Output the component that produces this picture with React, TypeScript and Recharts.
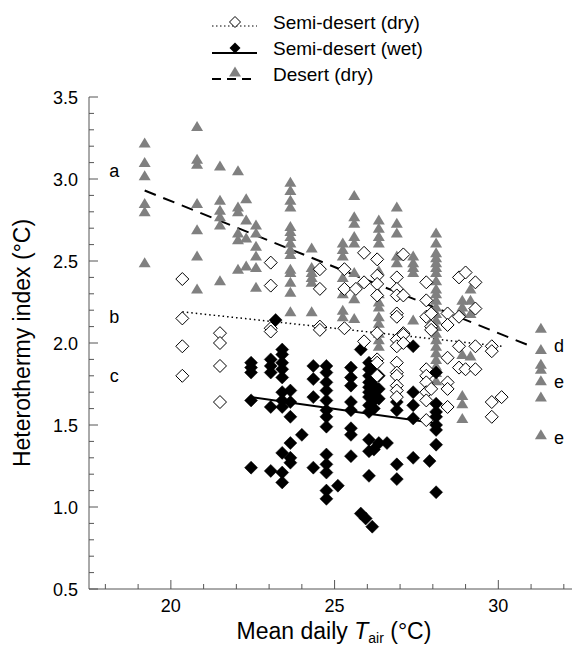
import React from "react";
import { ComposedChart, Scatter, XAxis, YAxis, ReferenceLine } from "recharts";

// columns of points: [mean daily Tair, heterothermy index values]
const semiDesertDry: [number, number[]][] = [
  [20.35, [2.39, 2.15, 1.98, 1.8]],
  [21.5, [2.06, 2.0, 1.86, 1.64]],
  [23.05, [2.49, 2.35, 2.09, 2.07]],
  [24.55, [2.45, 2.33, 2.1, 2.08]],
  [25.3, [2.45, 2.33, 2.09]],
  [25.65, [2.33]],
  [25.9, [2.55, 2.37, 2.01]],
  [26.3, [2.51, 2.41, 2.36, 2.29, 2.06, 1.9, 1.88, 1.8]],
  [26.9, [2.4, 2.33, 2.29, 2.18, 2.16, 2.02, 1.98, 1.88, 1.82, 1.8, 1.74, 1.71, 1.67]],
  [27.1, [2.54, 2.29, 2.06, 2.05, 2.0]],
  [27.8, [2.37, 2.26, 2.16, 1.84, 1.8, 1.76, 1.7, 1.65, 1.53]],
  [27.95, [2.18, 2.1, 2.08, 1.72]],
  [28.45, [2.18, 2.11, 1.91, 1.76, 1.72, 1.61]],
  [28.8, [2.4, 2.16, 1.98, 1.85]],
  [29.0, [2.43, 1.84]],
  [29.3, [2.37, 2.21, 1.98, 1.84]],
  [29.8, [1.98, 1.95, 1.64, 1.55]],
  [30.1, [1.67]],
];

const semiDesertWet: [number, number[]][] = [
  [22.45, [1.88, 1.85, 1.82, 1.65, 1.24]],
  [23.05, [1.9, 1.86, 1.82, 1.61, 1.22]],
  [23.2, [2.14]],
  [23.4, [1.96, 1.93, 1.88, 1.84, 1.79, 1.7, 1.65, 1.61, 1.33, 1.21, 1.15]],
  [23.65, [1.71, 1.64, 1.55, 1.39, 1.3, 1.27]],
  [24.0, [1.44]],
  [24.35, [1.86, 1.78, 1.67, 1.24]],
  [24.75, [1.86, 1.82, 1.76, 1.71, 1.65, 1.59, 1.55, 1.49, 1.32, 1.26, 1.21, 1.1, 1.05]],
  [25.1, [1.13]],
  [25.5, [1.85, 1.79, 1.74, 1.64, 1.59, 1.48, 1.44, 1.31]],
  [25.8, [1.96, 0.96]],
  [25.95, [0.93]],
  [26.05, [1.88, 1.84, 1.8, 1.76, 1.73, 1.7, 1.67, 1.62, 1.58, 1.41, 1.34, 1.19]],
  [26.15, [0.88]],
  [26.2, [1.86, 1.82, 1.78, 1.74, 1.71, 1.68, 1.65, 1.6, 1.35]],
  [26.35, [1.8, 1.72, 1.66, 1.39]],
  [26.6, [1.39]],
  [26.9, [1.64, 1.59, 1.26, 1.17]],
  [27.4, [1.98, 1.7, 1.62, 1.54, 1.3]],
  [27.9, [1.28]],
  [28.1, [1.82, 1.63, 1.58, 1.55, 1.5, 1.47, 1.38, 1.09]],
];

const desertDry: [number, number[]][] = [
  [19.2, [3.22, 3.1, 3.02, 2.85, 2.8, 2.49]],
  [20.8, [3.32, 3.12, 3.09, 2.85, 2.69, 2.53, 2.33]],
  [21.5, [3.08, 2.87, 2.81, 2.77, 2.72, 2.38]],
  [22.05, [3.05, 2.83, 2.8, 2.67, 2.63, 2.45]],
  [22.3, [2.88, 2.75, 2.64, 2.47]],
  [22.6, [2.72, 2.67, 2.59, 2.53, 2.46, 2.34]],
  [23.65, [2.98, 2.93, 2.87, 2.83, 2.71, 2.68, 2.65, 2.61, 2.57, 2.54, 2.45, 2.43, 2.37, 2.31, 2.19]],
  [24.3, [2.58, 2.46, 2.43, 2.4, 2.37, 2.19]],
  [25.25, [2.61, 2.57, 2.53, 2.4, 2.3, 2.2, 2.16]],
  [25.6, [2.9, 2.77, 2.73, 2.65, 2.61, 2.43, 2.27, 2.15]],
  [26.35, [2.75, 2.7, 2.65, 2.61, 2.44, 2.3, 2.25, 2.22, 2.16, 2.12, 2.06, 2.02, 1.98]],
  [26.9, [2.83, 2.73, 2.67, 2.53, 2.49]],
  [27.4, [2.53, 2.49, 2.46, 2.43, 2.14]],
  [28.1, [2.67, 2.61, 2.55, 2.52, 2.49, 2.46, 2.43, 2.38, 2.33, 2.3, 2.26, 2.22, 2.18, 2.14, 2.1, 2.06, 2.02, 1.98, 1.94, 1.9, 1.86, 1.82, 1.77]],
  [28.9, [2.26, 2.22, 2.18, 1.93, 1.68, 1.63, 1.54]],
  [29.15, [2.33, 2.26, 2.18, 1.92]],
  [31.3, [2.09, 1.96, 1.87, 1.84, 1.77, 1.67, 1.44]],
];

// regression line end points
const dryFit = [{ x: 20.35, y: 2.19 }, { x: 30.1, y: 1.98 }];
const wetFit = [{ x: 22.45, y: 1.67 }, { x: 28.1, y: 1.51 }];
const desertFit = [{ x: 19.2, y: 2.93 }, { x: 31.0, y: 1.98 }];

const letters = [
  { x: 18.27, y: 3.05, t: "a" },
  { x: 18.27, y: 2.16, t: "b" },
  { x: 18.27, y: 1.8, t: "c" },
  { x: 31.85, y: 1.98, t: "d" },
  { x: 31.85, y: 1.76, t: "e" },
  { x: 31.85, y: 1.42, t: "e" },
];

const xTicks = [18, 19, 20, 21, 22, 23, 24, 25, 26, 27, 28, 29, 30, 31, 32];
const xLabels = [20, 25, 30];
const yTicks = [
  0.5, 0.6, 0.7, 0.8, 0.9, 1.0, 1.1, 1.2, 1.3, 1.4, 1.5, 1.6, 1.7, 1.8, 1.9, 2.0,
  2.1, 2.2, 2.3, 2.4, 2.5, 2.6, 2.7, 2.8, 2.9, 3.0, 3.1, 3.2, 3.3, 3.4, 3.5,
];
const yLabels = [0.5, 1.0, 1.5, 2.0, 2.5, 3.0, 3.5];
const yRightTicks = [1.0, 1.5, 2.0, 2.5, 3.0];

const FONT = "'Liberation Sans', Arial, Helvetica, sans-serif";
const GRAY = "#808080";

const flat = (cols: [number, number[]][]) =>
  cols.flatMap(([x, ys]) => ys.map((y) => ({ x, y })));

const isLabel = (list: number[], v: number) => list.some((l) => Math.abs(l - v) < 1e-6);

const diamond = (cx: number, cy: number, r: number) =>
  `${cx},${cy - r} ${cx + r},${cy} ${cx},${cy + r} ${cx - r},${cy}`;
const triangle = (cx: number, cy: number) =>
  `${cx},${cy - 5.5} ${cx + 6},${cy + 4.5} ${cx - 6},${cy + 4.5}`;

const OpenDiamond = (p: any) => (
  <polygon points={diamond(p.cx, p.cy, 6.5)} fill="#fff" stroke="#000" strokeWidth={1} />
);
const FilledDiamond = (p: any) => (
  <polygon points={diamond(p.cx, p.cy, 6.5)} fill="#000" stroke="#000" strokeWidth={0.5} />
);
const Triangle = (p: any) => <polygon points={triangle(p.cx, p.cy)} fill={GRAY} />;
const Letter = (p: any) => (
  <text x={p.cx} y={p.cy} dy={6} textAnchor="middle" fontFamily={FONT} fontSize={18} fill="#000">
    {p.payload.t}
  </text>
);

const BottomTick = (p: any) => {
  const v = p.payload.value;
  const major = isLabel(xLabels, v);
  return (
    <g>
      <line x1={p.x} x2={p.x} y1={p.y} y2={p.y - (major ? 9 : 5)} stroke="#555" />
      {major && (
        <text x={p.x} y={p.y + 23} textAnchor="middle" fontFamily={FONT} fontSize={18} fill="#000">
          {v}
        </text>
      )}
    </g>
  );
};
const TopTick = (p: any) => {
  const major = isLabel(xLabels, p.payload.value);
  return <line x1={p.x} x2={p.x} y1={p.y} y2={p.y + (major ? 9 : 5)} stroke="#555" />;
};
const LeftTick = (p: any) => {
  const v = p.payload.value;
  const major = isLabel(yLabels, v);
  return (
    <g>
      <line x1={p.x} x2={p.x + (major ? 9 : 5)} y1={p.y} y2={p.y} stroke="#555" />
      {major && (
        <text x={p.x - 11} y={p.y} dy={6.5} textAnchor="end" fontFamily={FONT} fontSize={18} fill="#000">
          {v.toFixed(1)}
        </text>
      )}
    </g>
  );
};
const RightTick = (p: any) => <line x1={p.x} x2={p.x - 9} y1={p.y} y2={p.y} stroke="#555" />;

const LegendBox = () => (
  <svg width={573} height={90} style={{ position: "absolute", left: 0, top: 0 }}>
    <g fontFamily={FONT} fontSize={19} fill="#000">
      <line x1={212} x2={257} y1={26} y2={26} stroke="#000" strokeDasharray="1.5 2.5" />
      <polygon points={diamond(235, 22, 5.5)} fill="#fff" stroke="#000" />
      <text x={273} y={29}>Semi-desert (dry)</text>
      <line x1={212} x2={257} y1={53} y2={53} stroke="#000" strokeWidth={2} />
      <polygon points={diamond(235, 48, 5.5)} fill="#000" />
      <text x={273} y={55}>Semi-desert (wet)</text>
      <line x1={212} x2={257} y1={79} y2={79} stroke="#000" strokeWidth={2} strokeDasharray="9 6" />
      <polygon points={triangle(235, 72)} fill={GRAY} />
      <text x={273} y={81}>Desert (dry)</text>
    </g>
  </svg>
);

export default function App() {
  return (
    <div style={{ position: "absolute", left: 0, top: 0, width: 573, height: 649, background: "#fff" }}>
      <ComposedChart width={573} height={649} margin={{ top: 97, right: 1, bottom: 0, left: 0 }}>
        <XAxis
          xAxisId="b"
          type="number"
          dataKey="x"
          domain={[17.5, 32.25]}
          allowDataOverflow
          ticks={xTicks}
          interval={0}
          tickLine={false}
          tickSize={0}
          tickMargin={0}
          height={60}
          stroke="#555"
          tick={(p: any) => <BottomTick {...p} />}
        />
        <XAxis
          xAxisId="t"
          orientation="top"
          type="number"
          dataKey="x"
          domain={[17.5, 32.25]}
          allowDataOverflow
          ticks={xTicks}
          interval={0}
          tickLine={false}
          tickSize={0}
          tickMargin={0}
          height={0}
          stroke="#555"
          tick={(p: any) => <TopTick {...p} />}
        />
        <YAxis
          yAxisId="l"
          type="number"
          dataKey="y"
          domain={[0.5, 3.5]}
          allowDataOverflow
          ticks={yTicks}
          interval={0}
          tickLine={false}
          tickSize={0}
          tickMargin={0}
          width={89}
          stroke="#555"
          tick={(p: any) => <LeftTick {...p} />}
        />
        <YAxis
          yAxisId="r"
          orientation="right"
          type="number"
          dataKey="y"
          domain={[0.5, 3.5]}
          allowDataOverflow
          ticks={yRightTicks}
          interval={0}
          axisLine={false}
          tickLine={false}
          tickSize={0}
          tickMargin={0}
          width={0}
          tick={(p: any) => <RightTick {...p} />}
        />
        <Scatter xAxisId="b" yAxisId="l" data={flat(desertDry)} shape={Triangle} isAnimationActive={false} />
        <Scatter xAxisId="b" yAxisId="l" data={flat(semiDesertWet)} shape={FilledDiamond} isAnimationActive={false} />
        <Scatter xAxisId="b" yAxisId="l" data={flat(semiDesertDry)} shape={OpenDiamond} isAnimationActive={false} />
        <ReferenceLine xAxisId="b" yAxisId="l" segment={dryFit} stroke="#000" strokeWidth={1.5} strokeDasharray="1.5 3" />
        <ReferenceLine xAxisId="b" yAxisId="l" segment={wetFit} stroke="#000" strokeWidth={2} />
        <ReferenceLine xAxisId="b" yAxisId="l" segment={desertFit} stroke="#000" strokeWidth={2} strokeDasharray="12 8" />
        <Scatter xAxisId="b" yAxisId="l" data={letters} shape={Letter} isAnimationActive={false} />
        <text
          transform="translate(30 343) rotate(-90)"
          textAnchor="middle"
          fontFamily={FONT}
          fontSize={23}
          fill="#000"
        >
          Heterothermy index (°C)
        </text>
        <text x={334} y={639} textAnchor="middle" fontFamily={FONT} fontSize={23} fill="#000">
          Mean daily <tspan fontStyle="italic">T</tspan>
          <tspan fontSize={14} dy={4}>air</tspan>
          <tspan dy={-4}> (°C)</tspan>
        </text>
      </ComposedChart>
      <LegendBox />
    </div>
  );
}
